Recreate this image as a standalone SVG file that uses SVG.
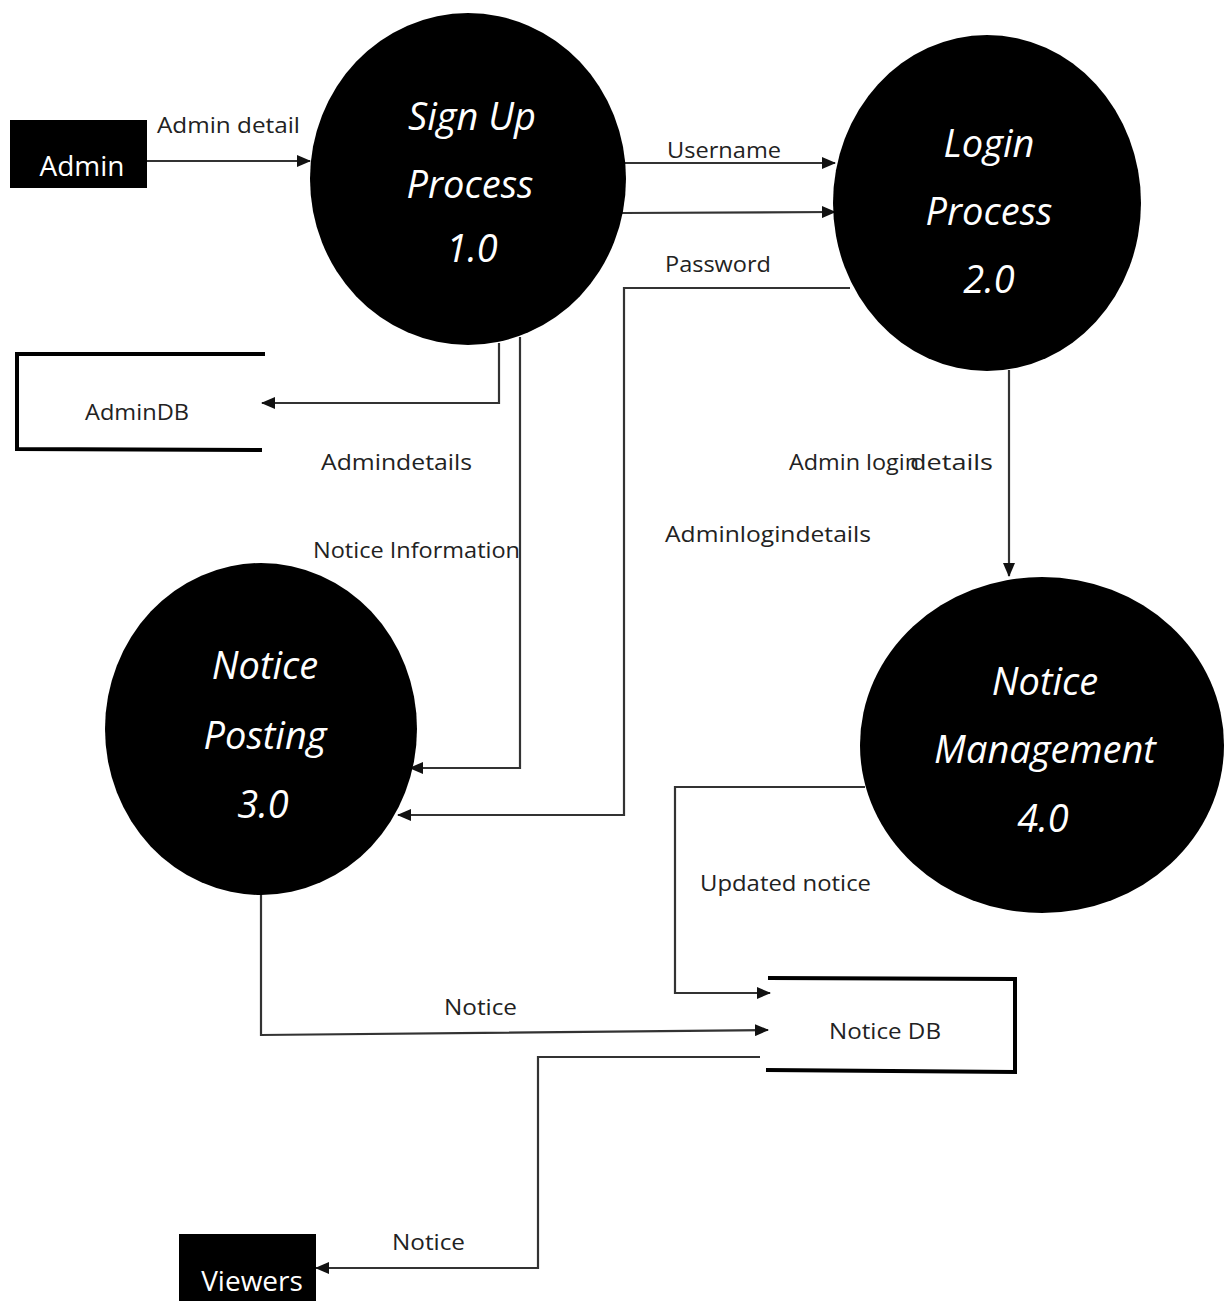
<svg xmlns="http://www.w3.org/2000/svg" width="1225" height="1301" viewBox="0 0 1225 1301">
<defs>
<style>
.bg{fill:#fff}
.proc{fill:#000}
.ptxt{fill:#fff;font-family:"Open Sans","Noto Sans",sans-serif;font-style:italic;font-size:38px;text-anchor:middle}
.ext{fill:#000}
.etxt{fill:#fff;font-family:"Open Sans","Noto Sans",sans-serif;font-size:28px;text-anchor:middle}
.store{fill:none;stroke:#000;stroke-width:4}
.stxt{fill:#222;font-family:"Open Sans","Noto Sans",sans-serif;font-size:22px;text-anchor:middle}
.lbl{fill:#222;font-family:"Open Sans","Noto Sans",sans-serif;font-size:22px}
.flow{fill:none;stroke:#333;stroke-width:2.2}
</style>
<marker id="ah" markerWidth="14" markerHeight="12" refX="13" refY="6" orient="auto" markerUnits="userSpaceOnUse">
<path d="M0,0 L14,6 L0,12 Z" fill="#111"/>
</marker>
</defs>
<rect class="bg" x="0" y="0" width="1225" height="1301"/>

<g id="connectors">
<path class="flow" d="M147,161 L310,161" marker-end="url(#ah)"/>
<path class="flow" d="M622,163 L835,163" marker-end="url(#ah)"/>
<path class="flow" d="M622,213 L835,212" marker-end="url(#ah)"/>
<path class="flow" d="M850,288 L624,288 L624,815 L398,815" marker-end="url(#ah)"/>
<path class="flow" d="M499,343 L499,403 L262,403" marker-end="url(#ah)"/>
<path class="flow" d="M520,337 L520,768 L410,768" marker-end="url(#ah)"/>
<path class="flow" d="M1009,370 L1009,576" marker-end="url(#ah)"/>
<path class="flow" d="M865,787 L675,787 L675,993 L770,993" marker-end="url(#ah)"/>
<path class="flow" d="M261,895 L261,1035 L768,1030" marker-end="url(#ah)"/>
<path class="flow" d="M760,1057 L538,1057 L538,1268 L316,1268" marker-end="url(#ah)"/>
<text class="lbl" x="157" y="133" textLength="143" lengthAdjust="spacingAndGlyphs">Admin detail</text>
<text class="lbl" x="667" y="158" textLength="114" lengthAdjust="spacingAndGlyphs">Username</text>
<text class="lbl" x="665" y="272" textLength="106" lengthAdjust="spacingAndGlyphs">Password</text>
<text class="lbl" x="321" y="470" textLength="151" lengthAdjust="spacingAndGlyphs">Admindetails</text>
<text class="lbl" x="313" y="558" textLength="207" lengthAdjust="spacingAndGlyphs">Notice Information</text>
<text class="lbl" x="789" y="470" textLength="130" lengthAdjust="spacingAndGlyphs">Admin login</text>
<text class="lbl" x="910" y="470" textLength="83" lengthAdjust="spacingAndGlyphs">details</text>
<text class="lbl" x="665" y="542" textLength="206" lengthAdjust="spacingAndGlyphs">Adminlogindetails</text>
<text class="lbl" x="700" y="891" textLength="171" lengthAdjust="spacingAndGlyphs">Updated notice</text>
<text class="lbl" x="444" y="1015" textLength="73" lengthAdjust="spacingAndGlyphs">Notice</text>
<text class="lbl" x="392" y="1250" textLength="73" lengthAdjust="spacingAndGlyphs">Notice</text>
</g>

<g id="admin">
<rect class="ext" x="10" y="120" width="137" height="68"/>
<text class="etxt" x="82" y="176">Admin</text>
</g>

<g id="viewers">
<rect class="ext" x="179" y="1234" width="137" height="67"/>
<text class="etxt" x="252" y="1291">Viewers</text>
</g>

<g id="signup">
<ellipse class="proc" cx="468" cy="179" rx="158" ry="166"/>
<text class="ptxt" x="472" y="130">Sign  Up</text>
<text class="ptxt" x="470" y="198">Process</text>
<text class="ptxt" x="472" y="262">1.0</text>
</g>

<g id="login">
<ellipse class="proc" cx="987" cy="203" rx="154" ry="168"/>
<text class="ptxt" x="989" y="157">Login</text>
<text class="ptxt" x="989" y="225">Process</text>
<text class="ptxt" x="989" y="293">2.0</text>
</g>

<g id="posting">
<ellipse class="proc" cx="261" cy="729" rx="156" ry="166"/>
<text class="ptxt" x="265" y="679">Notice</text>
<text class="ptxt" x="265" y="749">Posting</text>
<text class="ptxt" x="263" y="818">3.0</text>
</g>

<g id="management">
<ellipse class="proc" cx="1042" cy="745" rx="182" ry="168"/>
<text class="ptxt" x="1045" y="695">Notice</text>
<text class="ptxt" x="1045" y="763">Management</text>
<text class="ptxt" x="1043" y="832">4.0</text>
</g>

<g id="admindb">
<path class="store" d="M265,354 L17,354 L17,449 L262,450"/>
<text class="stxt" x="137" y="420" textLength="104" lengthAdjust="spacingAndGlyphs">AdminDB</text>
</g>

<g id="noticedb">
<path class="store" d="M768,978 L1015,979 L1015,1072 L766,1070"/>
<text class="stxt" x="885" y="1039" textLength="112" lengthAdjust="spacingAndGlyphs">Notice DB</text>
</g>
</svg>
